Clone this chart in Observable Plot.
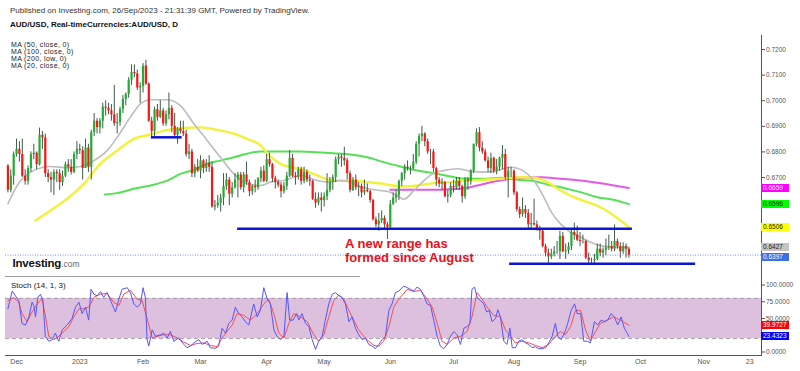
<!DOCTYPE html>
<html><head><meta charset="utf-8">
<script src="https://cdn.jsdelivr.net/npm/d3@7"></script>
<script src="https://cdn.jsdelivr.net/npm/@observablehq/plot@0.6"></script>
<style>
html,body{margin:0;padding:0;background:#fff;}
#chart{position:relative;width:800px;height:371px;overflow:hidden;font-family:"Liberation Sans",Arial,sans-serif;}
.abs{position:absolute;white-space:nowrap;}
.lbl{position:absolute;left:761px;width:28px;height:8px;line-height:8px;font-size:6.5px;padding-left:2px;box-sizing:border-box;}
#stoch g[aria-label^="x-axis"]{font-size:7px;}
</style></head>
<body><div id="chart"></div>
<script>
// ---------- DATA ----------
// trading-day number (0 = 2 Jan 2023); first candle = 28 Nov 2022
const firstDay = -25;
// OHLC in pips (price = value / 10000)
const openP = [6745,6650,6705,6790,6810,6790,6705,6685,6735,6790,6795,6750,6865,6855,6715,6700,6690,6720,6715,6680,6705,6750,6740,6720,6790,
6810,6805,6735,6815,6740,6875,6920,6895,6920,6975,6970,6960,6945,6910,6915,6965,7005,7025,7080,7110,7105,7050,
7055,7135,7065,6920,6880,6965,6935,6960,6910,6945,6970,6900,6865,6890,6880,6870,6790,6800,6715,6740,
6725,6765,6735,6755,6740,6585,6590,6600,6620,6665,6690,6635,6660,6690,6710,6660,6710,6680,6645,6665,6660,6695,6725,
6685,6770,6750,6695,6680,6670,6645,6665,6705,6775,6705,6700,6730,6685,6720,6690,6685,6615,6600,6620,
6610,6625,6650,6680,6700,6770,6780,6775,6765,6715,6650,6690,6660,6665,6640,6650,6645,6610,6535,6515,6530,6540,6515,
6505,6595,6620,6630,6685,6715,6740,6735,6735,6760,6830,6860,6870,6840,6800,6800,6735,6690,6675,6680,6625,6630,
6665,6660,6685,6665,6625,6690,6685,6725,6830,6875,6815,6800,6765,6735,6775,6725,6740,6775,6790,6700,6725,
6725,6640,6575,6555,6575,6560,6515,6520,6515,6500,6490,6430,6405,6390,6400,6410,6410,6470,6410,6415,6430,6485,6475,
6455,6450,6450,6385,6375,6375,6380,6420,6405,6415,6425,6430,6420,6450,6430,6410,6430,6420];
const highP = [6750,6730,6800,6850,6840,6850,6730,6745,6800,6830,6800,6893,6880,6870,6730,6720,6730,6730,6730,6725,6760,6770,6770,6800,6840,
6830,6820,6850,6830,6885,6950,6930,6930,6990,7000,6990,6985,7060,6950,6975,7020,7030,7090,7140,7140,7120,7070,
7145,7158,7070,6935,6975,6985,7000,6970,6960,7030,6980,6950,6895,6920,6920,6885,6830,6810,6750,6770,
6785,6770,6770,6785,6760,6610,6630,6635,6715,6715,6700,6680,6715,6720,6720,6720,6760,6690,6670,6690,6700,6740,6745,
6790,6795,6755,6705,6690,6680,6680,6720,6805,6790,6720,6740,6740,6740,6730,6710,6690,6640,6640,6640,
6640,6715,6700,6710,6780,6790,6790,6818,6775,6725,6700,6710,6680,6675,6690,6675,6650,6615,6545,6560,6570,6550,6525,
6610,6640,6650,6690,6720,6750,6765,6745,6790,6840,6870,6900,6875,6850,6810,6810,6740,6700,6695,6685,6650,6680,
6690,6700,6700,6670,6700,6700,6730,6830,6890,6895,6840,6810,6780,6795,6780,6770,6780,6825,6810,6740,6740,
6730,6645,6585,6620,6590,6575,6560,6615,6530,6510,6500,6440,6420,6420,6430,6450,6490,6485,6440,6445,6500,6522,6510,
6485,6475,6455,6405,6385,6400,6440,6440,6425,6460,6475,6450,6515,6460,6445,6445,6440,6425];
const lowP = [6640,6640,6670,6780,6760,6700,6670,6670,6720,6770,6730,6745,6810,6700,6680,6640,6630,6680,6650,6665,6700,6720,6710,6715,6770,
6790,6690,6735,6720,6690,6860,6870,6870,6890,6940,6945,6920,6900,6870,6900,6950,6980,7010,7060,7090,7040,6990,
7030,7060,6915,6855,6860,6920,6930,6900,6900,6925,6875,6860,6830,6870,6860,6780,6770,6700,6700,6720,
6695,6715,6720,6720,6580,6570,6580,6565,6590,6650,6590,6620,6655,6620,6650,6640,6670,6625,6630,6640,6650,6680,6680,
6680,6740,6680,6655,6660,6620,6635,6650,6700,6700,6670,6690,6670,6675,6680,6665,6610,6580,6590,6565,
6585,6610,6640,6650,6680,6750,6740,6745,6690,6640,6645,6650,6625,6620,6630,6640,6600,6530,6505,6490,6520,6500,6458,
6495,6590,6600,6610,6665,6690,6725,6710,6730,6750,6780,6840,6820,6790,6750,6720,6665,6660,6650,6620,6600,6620,
6640,6650,6650,6600,6615,6650,6670,6715,6820,6800,6790,6760,6720,6715,6715,6710,6725,6730,6690,6620,6700,
6630,6565,6540,6545,6540,6500,6500,6510,6490,6455,6425,6390,6364,6380,6390,6400,6380,6405,6380,6400,6415,6455,6450,
6430,6440,6380,6360,6357,6360,6375,6390,6385,6395,6415,6410,6410,6420,6385,6400,6385,6385];
const closeP = [6650,6705,6790,6810,6790,6705,6685,6735,6790,6795,6750,6865,6855,6715,6700,6690,6720,6715,6680,6705,6750,6740,6720,6790,6810,
6805,6735,6815,6740,6875,6920,6895,6920,6975,6970,6960,6945,6910,6915,6965,7005,7025,7080,7110,7105,7050,7055,
7135,7065,6920,6880,6965,6935,6960,6910,6945,6970,6900,6865,6890,6880,6870,6790,6800,6715,6740,6725,
6765,6735,6755,6740,6585,6590,6600,6620,6665,6690,6635,6660,6690,6710,6660,6710,6680,6645,6665,6660,6695,6725,6685,
6770,6750,6695,6680,6670,6645,6665,6705,6775,6705,6700,6730,6685,6720,6690,6685,6615,6600,6620,6610,
6625,6650,6680,6700,6770,6780,6775,6765,6715,6650,6690,6660,6665,6640,6650,6645,6610,6535,6515,6530,6540,6515,6505,
6595,6620,6630,6685,6715,6740,6735,6735,6760,6830,6860,6870,6840,6800,6800,6735,6690,6675,6680,6625,6630,6665,
6660,6685,6665,6625,6690,6685,6725,6830,6875,6815,6800,6765,6735,6775,6725,6740,6775,6790,6700,6725,6725,
6640,6575,6555,6575,6560,6515,6520,6515,6500,6490,6430,6405,6390,6400,6410,6410,6470,6410,6415,6430,6485,6475,6455,
6450,6450,6385,6375,6375,6380,6420,6405,6415,6425,6430,6420,6450,6430,6410,6430,6420,6397];

// moving averages: [trading day, value]
const ma20 = [[-25,.6597],[-20.6,.6688],[-17.1,.6721],[-10.2,.6743],[-4.4,.6738],[0.2,.6743],[4.9,.6766],[9.5,.6805],[13,.6857],[17.6,.6936],[21.1,.6988],[24.6,.7004],[30.4,.7004],[35,.6981],[39.7,.6910],[44.3,.6845],[48.9,.6779],[53.6,.6714],[58.2,.6675],[62.9,.6669],[66.3,.6682],[71,.6688],[76.8,.6708],[82.6,.6688],[87.2,.6682],[90.7,.6688],[94.2,.6682],[97.6,.6665],[102.3,.6652],[106.9,.6646],[110.4,.6630],[112.7,.6615],[116.2,.6649],[119.7,.6688],[123.1,.6717],[126.6,.6727],[131.3,.6734],[135.9,.6725],[140.5,.6721],[145.2,.6727],[149.8,.6740],[154.4,.6725],[157.9,.6688],[161.4,.6623],[163.7,.6571],[167.2,.6519],[170.7,.6486],[174.2,.6467],[177.6,.6447],[181.1,.6434],[185.7,.6428],[191,.6427]];
const ma50 = [[-15.4,.6532],[-10.2,.6571],[-4.4,.6617],[1.4,.6675],[7.2,.6754],[13,.6805],[18.8,.6851],[24.6,.6868],[30.4,.6886],[36.2,.6894],[42,.6896],[47.8,.6886],[53.6,.6871],[58.2,.6851],[62.9,.6825],[65.2,.6794],[71,.6747],[76.8,.6734],[82.6,.6708],[88.3,.6688],[94.2,.6688],[100,.6682],[105.7,.6675],[111.5,.6665],[117.4,.6669],[123.1,.6678],[128.9,.6682],[134.7,.6688],[140.5,.6691],[146.3,.6695],[153.3,.6701],[157.9,.6699],[162.6,.6682],[167.2,.6649],[171.8,.6623],[176.5,.6604],[181.1,.6584],[185.7,.6552],[191,.6506]];
const ma100 = [[8.7,.6634],[13,.6639],[18.8,.6656],[24.6,.6669],[30.4,.6688],[35,.6714],[39.7,.6730],[44.3,.6754],[48.9,.6766],[53.6,.6779],[58.2,.6793],[62.9,.6802],[71,.6802],[76.8,.6802],[82.6,.6799],[88.3,.6795],[94.2,.6790],[100,.6779],[105.7,.6760],[111.5,.6743],[117.4,.6727],[123.1,.6717],[128.9,.6704],[134.7,.6695],[140.5,.6695],[146.3,.6699],[152.1,.6691],[157.9,.6686],[162.6,.6673],[169.5,.6656],[174.2,.6643],[180,.6623],[185.7,.6613],[191,.6596]];
const ma200 = [[108,.6652],[115,.6652],[122,.6652],[128.9,.6654],[134.7,.6660],[140.5,.6675],[146.3,.6688],[153.3,.6699],[160.3,.6701],[167.2,.6695],[174.2,.6688],[181.1,.6678],[191,.6659]];
const maNames = ["MA (50, close, 0)","MA (100, close, 0)","MA (200, low, 0)","MA (20, close, 0)"];

// drawn support / resistance levels
const levelPrice = [0.6857, 0.6500, 0.6363];
const levelFrom = [24.9, 54.9, 149.5];
const levelTo = [35.6, 192.2, 214.2];

// stochastic (14,1,3): [trading day, value]
const stochK = [[-25,64.5],[-23.5,91.1],[-22.4,83.9],[-21.2,76.6],[-20.1,42.7],[-18.9,40.3],[-17.7,52.4],[-16.6,74.2],[-16,69.4],[-15.4,52.4],[-14.6,81.5],[-13.7,86.3],[-12.8,76.6],[-12,23.4],[-10.8,16.1],[-9.6,18.5],[-8.5,28.2],[-7.3,16.1],[-6.1,33.1],[-4.4,40.3],[-2.7,50],[-1.5,66.9],[-0.3,74.2],[0.8,57.3],[2,66.9],[3.1,47.6],[3.9,93.6],[4.9,86.3],[6,83.9],[7.2,90.2],[8.3,81.5],[9.5,88.7],[11.2,71.8],[12.4,59.7],[13.6,79],[14.7,93.6],[16.5,96],[17.6,88.7],[18.8,71.8],[19.9,66.9],[21.1,71.8],[22,96],[22.8,81.5],[23.4,18.5],[24,8.9],[25.2,33.1],[26.3,23.4],[28.1,25.8],[29.2,28.2],[30.4,21],[31.5,30.6],[32.7,16.1],[34.4,21],[36.2,11.3],[37.3,6.4],[38.5,8.9],[39.7,13.7],[41.4,18.5],[42.6,11.3],[44.3,16.1],[45.4,6.4],[47.2,5.5],[48.3,8.9],[49.5,35.5],[50.7,28.2],[51.8,42.7],[53,47.6],[54.1,66.9],[55.3,57.3],[56.5,52.4],[57.6,45.2],[58.8,40.3],[60.5,71.8],[61.7,52.4],[62.8,62.1],[64,96],[65.2,79],[66.3,71.8],[67.5,33.1],[68.6,23.4],[69.8,18.5],[71,23.4],[72.1,88.7],[73,47.6],[74.2,47.6],[75.4,57.3],[76.2,47.6],[77.3,57.3],[78.5,42.7],[79.7,37.9],[80.8,18.5],[82,4],[83.1,16.1],[84.3,23.4],[85.4,47.6],[86.6,71.8],[87.8,86.3],[88.9,88.7],[90.1,83.9],[91.2,81.5],[92.4,71.8],[93.6,45.2],[94.7,52.4],[95.9,35.5],[97,25.8],[98.2,18.5],[99.4,21],[100.5,11.3],[101.7,8.9],[102.8,5],[104,11.3],[105.2,18.5],[106.3,23.4],[107.5,62.1],[108.6,71.8],[109.8,88.7],[111,91.1],[112.7,98.4],[113.9,96],[115,93.6],[116.2,91.1],[117.3,96.9],[118.5,93.6],[119.6,83.9],[120.8,71.8],[122,69.4],[123.1,47.6],[124.3,23.4],[125.4,8.9],[126.6,5],[127.8,11.3],[128.9,23.4],[130.1,30.6],[131.2,25.8],[132.4,11.3],[133.6,35.5],[134.7,37.9],[135.7,42.7],[136.4,93.6],[137.3,96.9],[138.2,81.5],[139.4,76.6],[140.5,71.8],[141.5,59.7],[142.4,62.1],[143.4,45.2],[144.6,50],[145.4,63.1],[146.3,52.4],[147.5,16.1],[148.6,11.3],[149.6,35.5],[150.4,6.4],[151.5,6.4],[152.7,16.1],[153.8,18.5],[155,13.7],[156.2,11.3],[157.3,6.4],[158.5,7.9],[159.6,5],[160.8,5],[162,6.4],[163.1,13.7],[164.3,23.4],[165.4,42.7],[166.3,23.4],[167.4,18.5],[168.6,28.2],[169.7,42.7],[170.9,62.1],[172.1,71.8],[173,57.3],[174.2,57.3],[175.3,16.1],[176.5,16.1],[177.6,13.7],[179,45.2],[180.2,40.3],[181.3,47.6],[182.5,45.2],[183.6,47.6],[184.8,57.3],[185.9,52.4],[187.1,40.3],[188.3,52.4],[189.4,35.5],[191,23.4323]];
const stochD = [[-25,76.6],[-23,81.5],[-21.2,74.2],[-20.1,57.3],[-18.3,45.2],[-16.6,59.7],[-14.8,71.8],[-13.1,79],[-11.9,52.4],[-10.8,23.4],[-9,18.5],[-7.3,23.4],[-5.6,30.6],[-3.8,37.9],[-2.1,52.4],[-0.3,64.5],[1.4,64.5],[3.1,66.9],[4.9,81.5],[7.2,86.3],[9.5,87.3],[11.8,74.2],[13.6,69.4],[15.3,86.3],[17.6,92.1],[19.9,79],[21.7,76.6],[23.4,50],[25.2,21],[26.9,23.4],[29.2,25.8],[31.5,25.8],[33.9,21],[36.2,14.7],[38.5,9.8],[40.8,12.7],[43.1,13.7],[45.4,9.8],[47.8,7.9],[49.5,21],[51.2,30.6],[53,40.3],[54.7,57.3],[57,54.8],[59.4,47.6],[61.7,57.3],[64,71.8],[65.7,79],[67.5,57.3],[69.2,28.2],[71,21],[72.7,42.7],[74.4,57.3],[76.8,52.4],[79.1,45.2],[81.4,25.8],[83.1,16.1],[84.9,25.8],[86.6,52.4],[88.3,76.6],[90.1,85.3],[91.8,79],[93.6,62.1],[95.3,47.6],[97,33.1],[98.8,23.4],[100.5,16.1],[102.3,9.8],[104,8.9],[105.7,16.1],[107.5,37.9],[109.2,66.9],[111,79],[113.9,93.6],[116.2,90.2],[118.5,92.1],[120.8,79],[122.6,66.9],[124.3,42.7],[126,16.1],[127.8,11.3],[130.1,21],[132.4,23.4],[134.7,30.6],[136.4,52.4],[138.2,88.7],[139.9,79],[141.7,66.9],[144,54.8],[146.3,52.4],[148,33.1],[149.8,23.4],[151.5,13.7],[153.8,16.1],[156.2,13.7],[158.5,9.8],[160.8,6.4],[163.1,11.3],[165.4,23.4],[167.2,30.6],[168.9,25.8],[170.7,37.9],[172.4,62.1],[174.2,62.1],[175.9,33.1],[177.6,16.1],[179.4,30.6],[181.1,42.7],[183.4,47.6],[185.7,52.4],[188,47.6],[191,39.9727]];
const stochBand = [20, 80];

// axis ticks
const priceTicks = [0.67, 0.68, 0.69, 0.70, 0.71, 0.72];
const stochTicks = [0, 50, 75, 100];
const tickDays = [-22, 0, 22, 42, 65, 85, 108, 130, 151, 174, 195, 217, 233];
const tickNames = ["Dec","2023","Feb","Mar","Apr","May","Jun","Jul","Aug","Sep","Oct","Nov","23"];

// ---------- BUILD ----------
const candles = closeP.map((c, k) => ({
  day: firstDay + k, open: openP[k] / 1e4, high: highP[k] / 1e4, low: lowP[k] / 1e4, close: c / 1e4
}));
const levels = levelPrice.map((p, k) => ({price: p, from: levelFrom[k], to: levelTo[k]}));
const lastClose = candles[candles.length - 1].close;
const tickName = new Map(tickDays.map((d, k) => [d, tickNames[k]]));

const xDomain = [-25.84, 237.11];
const font = "Liberation Sans, Arial, sans-serif";
const UP = "#22ad33", DOWN = "#ff1414", WICK = "#3d5c46";
const C20 = "#bdbdbd", C50 = "#f2f23a", C100 = "#55e055", C200 = "#e45ae4";

const main = Plot.plot({
  width: 800, height: 242,
  marginLeft: 5, marginRight: 39, marginTop: 0, marginBottom: 0,
  style: {background: "transparent", overflow: "visible", fontFamily: font, fontSize: "6.5px", color: "#555"},
  x: {domain: xDomain, axis: null},
  y: {domain: [0.63094, 0.72547], axis: "right", ticks: priceTicks, tickFormat: d => d.toFixed(4),
      tickSize: 3, tickPadding: 1.5, line: true, label: null},
  marks: [
    Plot.ruleY([lastClose], {stroke: "#6f88f0", strokeWidth: 1, strokeDasharray: "1,1.5"}),
    Plot.line(ma200, {x: d => d[0], y: d => d[1], stroke: C200, strokeWidth: 2, curve: "monotone-x"}),
    Plot.line(ma100, {x: d => d[0], y: d => d[1], stroke: C100, strokeWidth: 2, curve: "monotone-x"}),
    Plot.line(ma50, {x: d => d[0], y: d => d[1], stroke: C50, strokeWidth: 2.4, curve: "monotone-x"}),
    Plot.line(ma20, {x: d => d[0], y: d => d[1], stroke: C20, strokeWidth: 1.6, curve: "monotone-x"}),
    Plot.ruleX(candles, {x: "day", y1: "low", y2: "high", stroke: WICK, strokeWidth: 1}),
    Plot.ruleX(candles, {x: "day", y1: "open", y2: "close", stroke: d => d.close >= d.open ? UP : DOWN, strokeWidth: 2.2}),
    Plot.ruleY(levels, {y: "price", x1: "from", x2: "to", stroke: "#0c14d6", strokeWidth: 2.5})
  ]
});

const stoch = Plot.plot({
  width: 800, height: 94,
  marginLeft: 5, marginRight: 39, marginTop: 0, marginBottom: 16,
  style: {background: "transparent", overflow: "visible", fontFamily: font, fontSize: "6.5px", color: "#555"},
  x: {domain: xDomain, ticks: tickDays, tickFormat: d => tickName.get(d), tickSize: 0, tickPadding: 4, line: true, label: null},
  y: {domain: [-5.2, 111.2], axis: "right", ticks: stochTicks, tickFormat: d => d.toFixed(4),
      tickSize: 3, tickPadding: 1.5, line: true, label: null},
  marks: [
    Plot.rect([stochBand], {x1: () => xDomain[0], x2: () => xDomain[1], y1: d => d[0], y2: d => d[1], fill: "#dcc0de"}),
    Plot.ruleY(stochBand, {stroke: "#a89ca8", strokeWidth: 1, strokeDasharray: "4,3"}),
    Plot.line(stochD, {x: d => d[0], y: d => d[1], stroke: "#ff4d4d", strokeWidth: 1}),
    Plot.line(stochK, {x: d => d[0], y: d => d[1], stroke: "#5555ff", strokeWidth: 1})
  ]
});
stoch.id = "stoch";

const wrap = document.getElementById("chart");
function place(el, top) { el.style.position = "absolute"; el.style.left = "0px"; el.style.top = top + "px"; wrap.appendChild(el); }
const MAIN_TOP = 35, STOCH_TOP = 277;
place(main, MAIN_TOP);
place(stoch, STOCH_TOP);

function div(cls, css, html) {
  const d = document.createElement("div");
  d.className = cls; d.style.cssText = css; d.innerHTML = html; wrap.appendChild(d); return d;
}
// header texts
div("abs", "left:10px;top:6.7px;font-size:8px;line-height:8px;color:#333;", "Published on Investing.com, 26/Sep/2023 - 21:31:39 GMT, Powered by TradingView.");
div("abs", "left:10px;top:21.2px;font-size:8px;line-height:8px;color:#111;font-weight:bold;", "AUD/USD, Real-timeCurrencies:AUD/USD, D");
maNames.forEach((name, k) =>
  div("abs", `left:11px;top:${41 + k * 7.1}px;font-size:7px;line-height:7px;letter-spacing:0.35px;color:#222;`, name));
div("abs", "left:11px;top:282.2px;font-size:8px;line-height:8px;color:#222;", "Stoch (14, 1, 3)");
div("abs", "left:12.5px;top:257px;font-size:11.5px;line-height:12px;color:#111;font-weight:bold;letter-spacing:-0.2px;",
    "Investing<span style='font-weight:normal;font-size:8.5px;color:#666;letter-spacing:0'>.com</span>");
div("abs", "left:345px;top:236.6px;font-size:13px;line-height:14.4px;color:#e8101a;font-weight:bold;", "A new range has<br>formed since August");
div("abs", "left:5px;top:276px;width:355px;height:1px;background:#a0a0a0;", "");

// value labels on the right axis
function valueLabels(items, scaleY, top) {
  const pos = items.map(it => ({...it, y: top + scaleY.apply(it.v)})).sort((a, b) => a.y - b.y);
  for (let k = 1; k < pos.length; k++) if (pos[k].y - pos[k - 1].y < 9.7) pos[k].y = pos[k - 1].y + 9.7;
  for (const p of pos) div("lbl", `top:${p.y - 4}px;background:${p.bg};color:${p.fg};`, p.v.toFixed(4));
}
const yMain = main.scale("y"), yStoch = stoch.scale("y");
valueLabels([
  {v: ma200[ma200.length - 1][1], bg: "#ff00ff", fg: "#fff"},
  {v: ma100[ma100.length - 1][1], bg: "#00ff00", fg: "#111"},
  {v: ma50[ma50.length - 1][1], bg: "#ffff00", fg: "#222"},
  {v: ma20[ma20.length - 1][1], bg: "#c4c4c4", fg: "#222"},
  {v: lastClose, bg: "#3f6fe6", fg: "#fff"}
], yMain, MAIN_TOP);
valueLabels([
  {v: stochD[stochD.length - 1][1], bg: "#ff0000", fg: "#fff"},
  {v: stochK[stochK.length - 1][1], bg: "#0000ff", fg: "#fff"}
], yStoch, STOCH_TOP);
</script>
</body></html>
